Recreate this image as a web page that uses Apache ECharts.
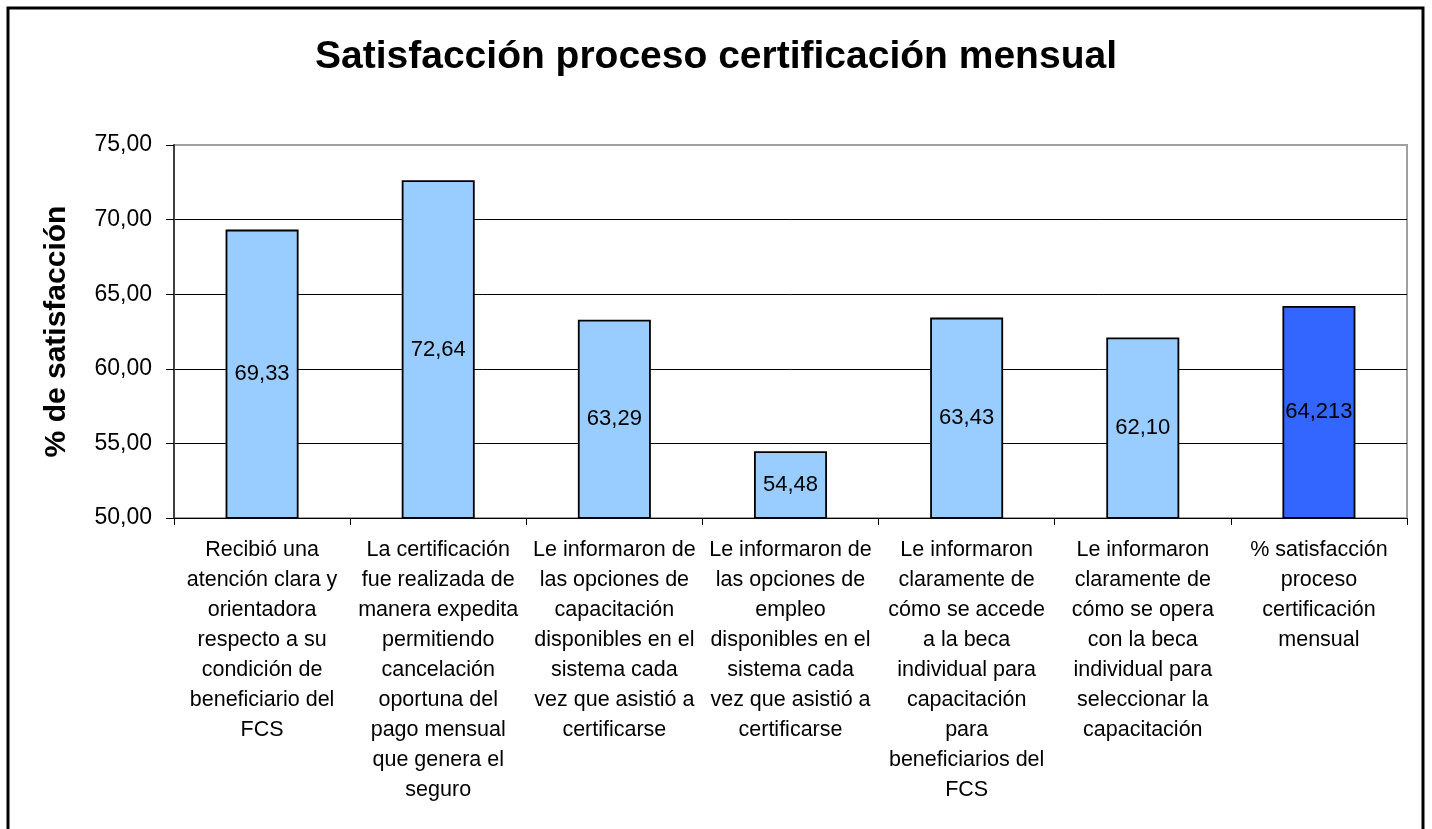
<!DOCTYPE html>
<html>
<head>
<meta charset="utf-8">
<script src="https://cdn.jsdelivr.net/npm/echarts@6/dist/echarts.min.js"></script>
<style>html,body{margin:0;padding:0;background:#fff;}#c{width:1432px;height:829px;}</style>
</head>
<body>
<div id="c"></div>
<script>
const titleText = 'Satisfacción proceso certificación mensual';
const yAxisName = '% de satisfacción';
const categories = [
  'Recibió una\natención clara y\norientadora\nrespecto a su\ncondición de\nbeneficiario del\nFCS',
  'La certificación\nfue realizada de\nmanera expedita\npermitiendo\ncancelación\noportuna del\npago mensual\nque genera el\nseguro',
  'Le informaron de\nlas opciones de\ncapacitación\ndisponibles en el\nsistema cada\nvez que asistió a\ncertificarse',
  'Le informaron de\nlas opciones de\nempleo\ndisponibles en el\nsistema cada\nvez que asistió a\ncertificarse',
  'Le informaron\nclaramente de\ncómo se accede\na la beca\nindividual para\ncapacitación\npara\nbeneficiarios del\nFCS',
  'Le informaron\nclaramente de\ncómo se opera\ncon la beca\nindividual para\nseleccionar la\ncapacitación',
  '% satisfacción\nproceso\ncertificación\nmensual'
];
const values = [69.33, 72.64, 63.29, 54.48, 63.43, 62.10, 64.213];
const valueLabels = ['69,33', '72,64', '63,29', '54,48', '63,43', '62,10', '64,213'];
const barColors = ['#99CCFF', '#99CCFF', '#99CCFF', '#99CCFF', '#99CCFF', '#99CCFF', '#3366FF'];
const yMin = 50, yMax = 75, yInterval = 5;

const font = '"Liberation Sans", Arial, sans-serif';
const chart = echarts.init(document.getElementById('c'), null, {renderer: 'canvas'});
chart.setOption({
  animation: false,
  backgroundColor: '#fff',
  title: {
    text: titleText, left: 'center', top: 33,
    textStyle: {fontFamily: font, fontSize: 39, fontWeight: 'bold', color: '#000'}
  },
  graphic: [{
    type: 'rect', shape: {x: 8, y: 8, width: 1415, height: 840},
    style: {fill: 'none', stroke: '#000', lineWidth: 3}, z: 100
  }],
  grid: {left: 174, right: 25, top: 145, bottom: 311, show: true, borderColor: '#a0a0a0', borderWidth: 2, backgroundColor: '#fff'},
  xAxis: {
    type: 'category', data: categories,
    axisLine: {lineStyle: {color: '#000', width: 1}},
    axisTick: {show: true, length: 7, lineStyle: {color: '#000'}},
    axisLabel: {interval: 0, margin: 17, fontFamily: font, fontSize: 21.5, lineHeight: 30, color: '#000', align: 'center'}
  },
  yAxis: {
    type: 'value', min: yMin, max: yMax, interval: yInterval,
    name: yAxisName, nameLocation: 'middle', nameGap: 102, nameRotate: 90,
    nameTextStyle: {fontFamily: font, fontSize: 30, fontWeight: 'bold', color: '#000'},
    axisLine: {show: true, lineStyle: {color: '#404040', width: 2}},
    axisTick: {show: true, length: 8, lineStyle: {color: '#000'}},
    axisLabel: {margin: 22, fontFamily: font, fontSize: 23, color: '#000',
      formatter: v => v.toFixed(2).replace('.', ',')},
    splitLine: {show: true, lineStyle: {color: ['#000', '#000', '#000', '#000', '#000', '#a0a0a0'], width: 1}}
  },
  series: [{
    type: 'bar', barWidth: 73,
    data: values.map((v, i) => ({value: v, itemStyle: {color: barColors[i]}})),
    itemStyle: {borderColor: '#000', borderWidth: 1.8},
    label: {show: true, position: 'inside', fontFamily: font, fontSize: 22, color: '#000',
      formatter: p => valueLabels[p.dataIndex]}
  }]
});
</script>
</body>
</html>
